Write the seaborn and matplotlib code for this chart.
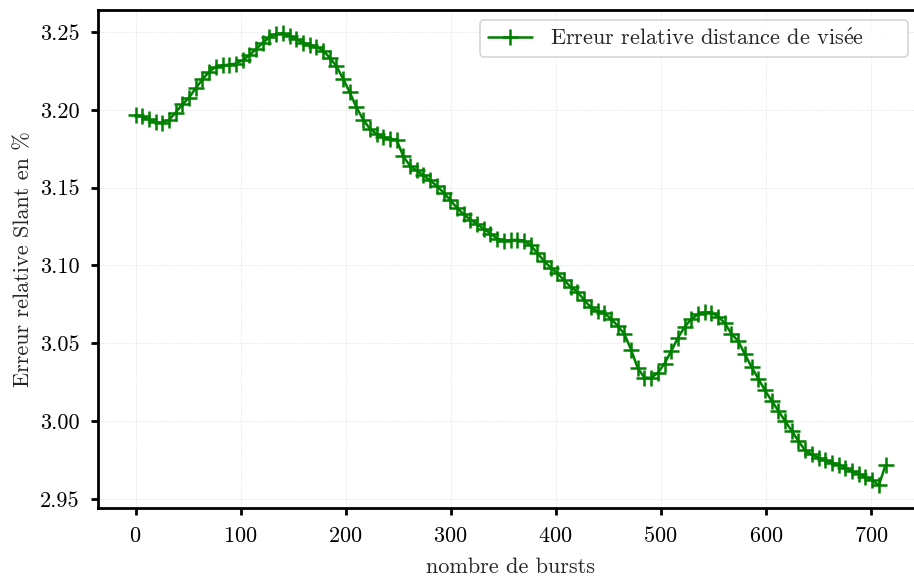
import numpy as np
import pandas as pd
import matplotlib
matplotlib.use("Agg")
import matplotlib.pyplot as plt
import seaborn as sns

# erreur relative (en %), une valeur par point
erreur = [
    3.1966, 3.1957, 3.1938, 3.1921, 3.1915, 3.1935, 3.1982, 3.2035, 3.2078, 3.2139,
    3.2195, 3.2245, 3.2275, 3.2286, 3.2290, 3.2297, 3.2318, 3.2350, 3.2390, 3.2430,
    3.2465, 3.2487, 3.2491, 3.2476, 3.2452, 3.2432, 3.2419, 3.2405, 3.2380, 3.2335,
    3.2280, 3.2200, 3.2112, 3.2015, 3.1937, 3.1878, 3.1845, 3.1826, 3.1815, 3.1806,
    3.1700, 3.1640, 3.1610, 3.1578, 3.1546, 3.1511, 3.1468, 3.1420, 3.1370, 3.1328,
    3.1295, 3.1266, 3.1236, 3.1205, 3.1172, 3.1160, 3.1162, 3.1165, 3.1160, 3.1130,
    3.1080, 3.1030, 3.0985, 3.0950, 3.0905, 3.0862, 3.0830, 3.0778, 3.0730, 3.0706,
    3.0693, 3.0658, 3.0612, 3.0560, 3.0460, 3.0340, 3.0280, 3.0278, 3.0310, 3.0370,
    3.0450, 3.0535, 3.0605, 3.0655, 3.0686, 3.0700, 3.0697, 3.0672, 3.0630, 3.0560,
    3.0515, 3.0430, 3.0348, 3.0273, 3.0198, 3.0131, 3.0066, 3.0001, 2.9937, 2.9872,
    2.9812, 2.9786, 2.9765, 2.9748, 2.9734, 2.9720, 2.9700, 2.9678, 2.9662, 2.9641,
    2.9620, 2.9588, 2.9717,
]
bursts = np.linspace(0, 714, len(erreur))

df = pd.DataFrame({"bursts": bursts, "erreur": erreur})

sns.set_style("ticks")
plt.rcParams["font.family"] = ["cmr10", "DejaVu Serif"]
plt.rcParams["mathtext.fontset"] = "cm"
plt.rcParams["axes.formatter.use_mathtext"] = True
plt.rcParams["font.size"] = 16

fig = plt.figure(figsize=(9.14, 5.79), dpi=100)
ax = fig.add_axes([98 / 914, 71 / 579, 825 / 914, 498 / 579])

sns.lineplot(data=df, x="bursts", y="erreur", ax=ax, color="green",
             marker="+", markersize=11, markeredgewidth=1.8, linewidth=1.8,
             markeredgecolor="green",
             label=r"Erreur relative distance de vis$\acute{\mathrm{e}}$e")

ax.set_xlim(-35.7, 749.7)
ax.set_ylim(2.9442, 3.2641)
ax.set_xticks([0, 100, 200, 300, 400, 500, 600, 700])
ax.set_yticks([2.95, 3.00, 3.05, 3.10, 3.15, 3.20, 3.25])
ax.set_yticklabels(["2.95", "3.00", "3.05", "3.10", "3.15", "3.20", "3.25"])
ax.grid(True, linestyle=":", linewidth=0.6, color="#d9d9d9")
ax.set_xlabel("nombre de bursts", labelpad=8)
ax.set_ylabel("Erreur relative Slant en %", labelpad=5)
for s in ax.spines.values():
    s.set_linewidth(2)
    s.set_color("black")
ax.tick_params(width=2, length=5, pad=8, labelsize=16, colors="black")

leg = ax.legend(loc="upper left", fontsize=16, frameon=True, fancybox=True,
                bbox_to_anchor=(0.463, 0.5, 0.519, 0.48), mode="expand",
                borderaxespad=0, handlelength=2.0, borderpad=0.35)
leg.get_frame().set_edgecolor("#cccccc")
leg.get_frame().set_linewidth(1.2)

fig.savefig("out.png", dpi=100)
